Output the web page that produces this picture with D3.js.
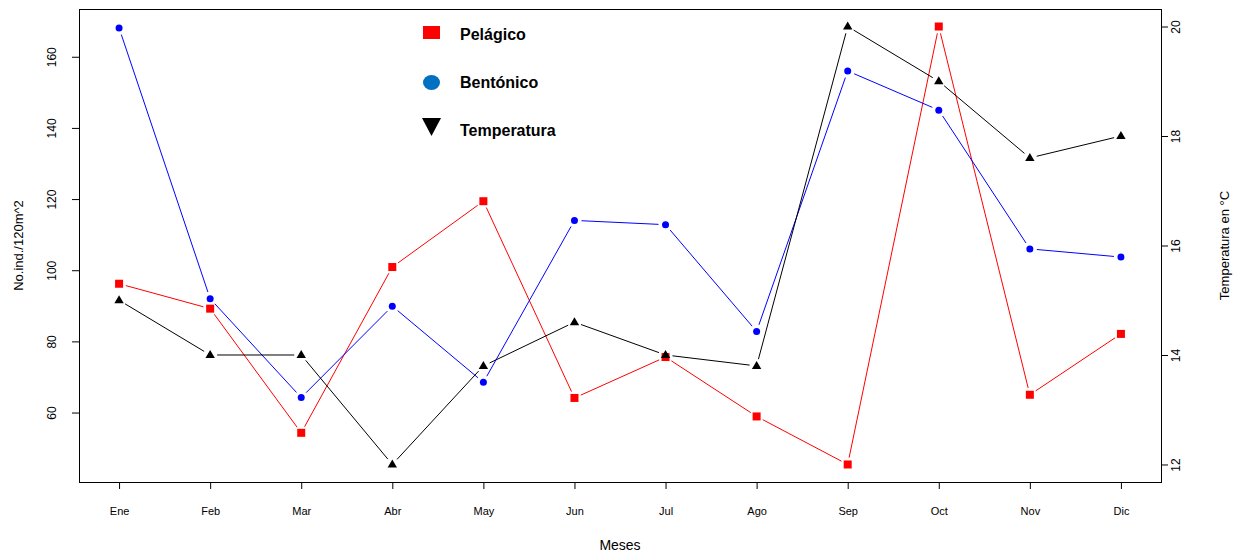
<!DOCTYPE html>
<html>
<head>
<meta charset="utf-8">
<script src="https://cdn.jsdelivr.net/npm/d3@7"></script>
<style>
  body { margin: 0; background: #fff; }
  svg { display: block; font-family: "Liberation Sans", Arial, sans-serif; }
</style>
</head>
<body>
<svg width="1238" height="552"></svg>
<script>
const months = ["Ene","Feb","Mar","Abr","May","Jun","Jul","Ago","Sep","Oct","Nov","Dic"];
const pelagico = [96.2, 89.2, 54.3, 100.9, 119.4, 64.1, 75.6, 58.9, 45.4, 168.5, 65.0, 82.1];
const bentonico = [168.1, 92.0, 64.2, 89.9, 68.5, 114.0, 112.8, 82.8, 156.0, 145.0, 106.0, 103.7];
const temperatura = [15.0, 14.0, 14.0, 12.0, 13.8, 14.6, 14.0, 13.8, 20.0, 19.0, 17.6, 18.0];
const leftTicks = [60, 80, 100, 120, 140, 160];
const rightTicks = [12, 14, 16, 18, 20];

const svg = d3.select("svg");
const margin = { top: 9, right: 77, bottom: 70, left: 79 };
const width = +svg.attr("width");
const height = +svg.attr("height");
const font = "'Liberation Sans', Arial, sans-serif";

// R-style 4% padding of the data range
function padded(ext) {
  const p = (ext[1] - ext[0]) * 0.04;
  return [ext[0] - p, ext[1] + p];
}

const x = d3.scaleLinear()
  .domain(padded([0, months.length - 1]))
  .range([margin.left, width - margin.right]);

const y = d3.scaleLinear()
  .domain(padded(d3.extent(pelagico.concat(bentonico))))
  .range([height - margin.bottom, margin.top]);

const yT = d3.scaleLinear()
  .domain(padded(d3.extent(temperatura)))
  .range([height - margin.bottom, margin.top]);

// axes
const xAxis = svg.append("g")
  .attr("transform", `translate(0,${height - margin.bottom})`)
  .call(d3.axisBottom(x).tickValues(d3.range(months.length)).tickFormat(i => months[i]).tickSize(7));
xAxis.select(".domain").remove();
xAxis.selectAll("text").attr("y", 33).attr("dy", null)
  .style("font-size", "11px").style("font-family", font).attr("fill", "#000");

const yAxis = svg.append("g")
  .attr("transform", `translate(${margin.left},0)`)
  .call(d3.axisLeft(y).tickValues(leftTicks).tickSize(7));
yAxis.select(".domain").remove();
yAxis.selectAll("text")
  .attr("x", null).attr("dy", null)
  .attr("transform", "translate(-23,0) rotate(-90)")
  .style("text-anchor", "middle")
  .style("font-size", "12px").style("font-family", font).attr("fill", "#000");

const yTAxis = svg.append("g")
  .attr("transform", `translate(${width - margin.right},0)`)
  .call(d3.axisRight(yT).tickValues(rightTicks).tickSize(7));
yTAxis.select(".domain").remove();
yTAxis.selectAll("text")
  .attr("x", null).attr("dy", null)
  .attr("transform", "translate(19,0) rotate(-90)")
  .style("text-anchor", "middle")
  .style("font-size", "12px").style("font-family", font).attr("fill", "#000");

svg.selectAll(".tick line").attr("stroke", "#000");

// caja
svg.append("rect")
  .attr("x", margin.left + 0.5).attr("y", margin.top + 0.5)
  .attr("width", width - margin.left - margin.right)
  .attr("height", height - margin.top - margin.bottom)
  .attr("fill", "none").attr("stroke", "#000").attr("stroke-width", 1);

// titulos de ejes
svg.append("text")
  .attr("x", (margin.left + width - margin.right) / 2).attr("y", 550)
  .attr("text-anchor", "middle").style("font-size", "14px").text("Meses");

svg.append("text")
  .attr("transform", `translate(23,${(margin.top + height - margin.bottom) / 2}) rotate(-90)`)
  .attr("text-anchor", "middle").style("font-size", "13px").text("No.ind./120m^2");

svg.append("text")
  .attr("transform", `translate(1229,${(margin.top + height - margin.bottom) / 2}) rotate(-90)`)
  .attr("text-anchor", "middle").style("font-size", "13px").text("Temperatura en °C");

// lineas tipo "b": segmentos con hueco alrededor de cada punto
function drawSeries(values, scale, color, shape) {
  const pts = values.map((v, i) => [x(i), scale(v)]);
  const gap = 7;
  const segs = [];
  for (let i = 0; i < pts.length - 1; i++) {
    const [x0, y0] = pts[i], [x1, y1] = pts[i + 1];
    const d = Math.hypot(x1 - x0, y1 - y0);
    if (d <= 2 * gap) continue;
    const ux = (x1 - x0) / d, uy = (y1 - y0) / d;
    segs.push([x0 + ux * gap, y0 + uy * gap, x1 - ux * gap, y1 - uy * gap]);
  }
  svg.append("g").selectAll("line")
    .data(segs).enter().append("line")
    .attr("x1", d => d[0]).attr("y1", d => d[1])
    .attr("x2", d => d[2]).attr("y2", d => d[3])
    .attr("stroke", color).attr("stroke-width", 1);

  const g = svg.append("g");
  if (shape === "square") {
    g.selectAll("rect").data(pts).enter().append("rect")
      .attr("x", d => d[0] - 4).attr("y", d => d[1] - 4)
      .attr("width", 8).attr("height", 8).attr("fill", color);
  } else if (shape === "circle") {
    g.selectAll("circle").data(pts).enter().append("circle")
      .attr("cx", d => d[0]).attr("cy", d => d[1]).attr("r", 3.5).attr("fill", color);
  } else {
    g.selectAll("path").data(pts).enter().append("path")
      .attr("d", d => `M${d[0]},${d[1] - 5}L${d[0] + 4.7},${d[1] + 3}L${d[0] - 4.7},${d[1] + 3}Z`)
      .attr("fill", color);
  }
}

drawSeries(pelagico, y, "#ff0000", "square");
drawSeries(bentonico, y, "#0000ff", "circle");
drawSeries(temperatura, yT, "#000000", "triangle");

// leyenda
const legend = svg.append("g");
legend.append("rect").attr("x", 423).attr("y", 26).attr("width", 17).attr("height", 13).attr("fill", "#ff0000");
legend.append("ellipse").attr("cx", 431.5).attr("cy", 82.5).attr("rx", 8.5).attr("ry", 7.5).attr("fill", "#0070c0");
legend.append("path").attr("d", "M422,118L441,118L431.5,136Z").attr("fill", "#000");
[["Pelágico", 40], ["Bentónico", 88], ["Temperatura", 136]].forEach(([t, by]) => {
  legend.append("text").attr("x", 460).attr("y", by)
    .style("font-size", "16px").style("font-weight", "bold").text(t);
});
</script>
</body>
</html>
